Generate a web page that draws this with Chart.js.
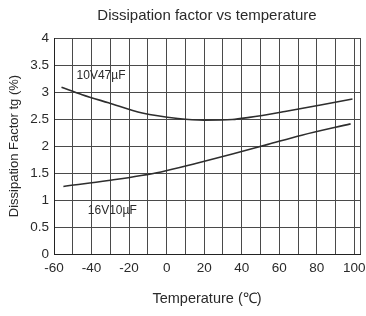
<!DOCTYPE html>
<html>
<head>
<meta charset="utf-8">
<script src="https://cdn.jsdelivr.net/npm/chart.js@4/dist/chart.umd.min.js"></script>
<style>
  html, body { margin: 0; padding: 0; background: #fff; }
  #wrap { width: 366px; height: 316px; }
</style>
</head>
<body>
<div id="wrap"><canvas id="chart"></canvas></div>
<script>
// values
const temps10V = [-56, -45, -31, -13, 6, 20, 35, 44, 63, 82, 99];
const df10V = [3.09, 2.95, 2.80, 2.61, 2.51, 2.48, 2.49, 2.53, 2.64, 2.76, 2.87];
const temps16V = [-55, -31, -3, 16, 35, 54, 72, 98];
const df16V = [1.25, 1.36, 1.52, 1.68, 1.85, 2.03, 2.20, 2.41];

// vertical grid: every 10 degrees, plus the right edge of the sheet
const xGrid = [-60, -50, -40, -30, -20, -10, 0, 10, 20, 30, 40, 50, 60, 70, 80, 90, 100, 103];
const xLabeled = [-60, -40, -20, 0, 20, 40, 60, 80, 100];

const chartTitle = 'Dissipation factor vs temperature';
const xTitle = 'Temperature (℃)';
const yTitle = 'Dissipation Factor tg (%)';
const curveLabels = [
  { text: '10V47µF', x: -48, y: 3.31 },
  { text: '16V10µF', x: -42, y: 0.81 }
];

const FONT = "'Liberation Sans', Arial, sans-serif";
const ink = '#2a2a2a';

function toPoints(xs, ys) {
  return xs.map((x, i) => ({ x: x, y: ys[i] }));
}

// title over the plot area and the two curve names
const textPlugin = {
  id: 'texts',
  afterDraw(chart) {
    const { ctx, chartArea, scales } = chart;
    ctx.save();
    ctx.fillStyle = ink;
    ctx.font = '15px ' + FONT;
    ctx.textAlign = 'center';
    ctx.textBaseline = 'middle';
    ctx.fillText(chartTitle, (chartArea.left + chartArea.right) / 2, 16);
    ctx.font = '12px ' + FONT;
    ctx.textAlign = 'left';
    curveLabels.forEach(l => {
      ctx.fillText(l.text, scales.x.getPixelForValue(l.x), scales.y.getPixelForValue(l.y));
    });
    ctx.restore();
  }
};

new Chart(document.getElementById('chart'), {
  type: 'line',
  data: {
    datasets: [
      {
        label: '10V47µF',
        data: toPoints(temps10V, df10V),
        borderColor: '#2e2e2e',
        borderWidth: 1.6,
        pointRadius: 0,
        tension: 0.4,
        cubicInterpolationMode: 'monotone'
      },
      {
        label: '16V10µF',
        data: toPoints(temps16V, df16V),
        borderColor: '#2e2e2e',
        borderWidth: 1.6,
        pointRadius: 0,
        tension: 0.4,
        cubicInterpolationMode: 'monotone'
      }
    ]
  },
  options: {
    responsive: true,
    maintainAspectRatio: false,
    animation: false,
    layout: { padding: { top: 38, right: 5, left: 0, bottom: 0 } },
    plugins: {
      legend: { display: false },
      title: { display: false },
      tooltip: { enabled: false }
    },
    scales: {
      x: {
        type: 'linear',
        min: -60,
        max: 103,
        border: { color: '#222', width: 1 },
        grid: { color: '#4a4a4a', lineWidth: 1, drawTicks: false },
        afterBuildTicks(scale) {
          scale.ticks = xGrid.map(v => ({ value: v }));
        },
        ticks: {
          padding: 6,
          color: ink,
          font: { family: FONT, size: 13.5 },
          maxRotation: 0,
          autoSkip: false,
          callback: v => (xLabeled.includes(v) ? String(v) : '')
        },
        title: {
          display: true,
          text: xTitle,
          color: ink,
          font: { family: FONT, size: 14.5 },
          padding: { top: 4, bottom: 8 }
        },
        afterFit(scale) { scale.height = 62; }
      },
      y: {
        min: 0,
        max: 4,
        border: { color: '#222', width: 1 },
        grid: { color: '#4a4a4a', lineWidth: 1, drawTicks: false },
        ticks: {
          stepSize: 0.5,
          padding: 5,
          color: ink,
          font: { family: FONT, size: 13.5 },
          callback: v => String(v)
        },
        title: {
          display: true,
          text: yTitle,
          color: ink,
          font: { family: FONT, size: 13 },
          padding: { top: 7, bottom: 0 }
        },
        afterFit(scale) { scale.width = 54; }
      }
    }
  },
  plugins: [textPlugin]
});
</script>
</body>
</html>
